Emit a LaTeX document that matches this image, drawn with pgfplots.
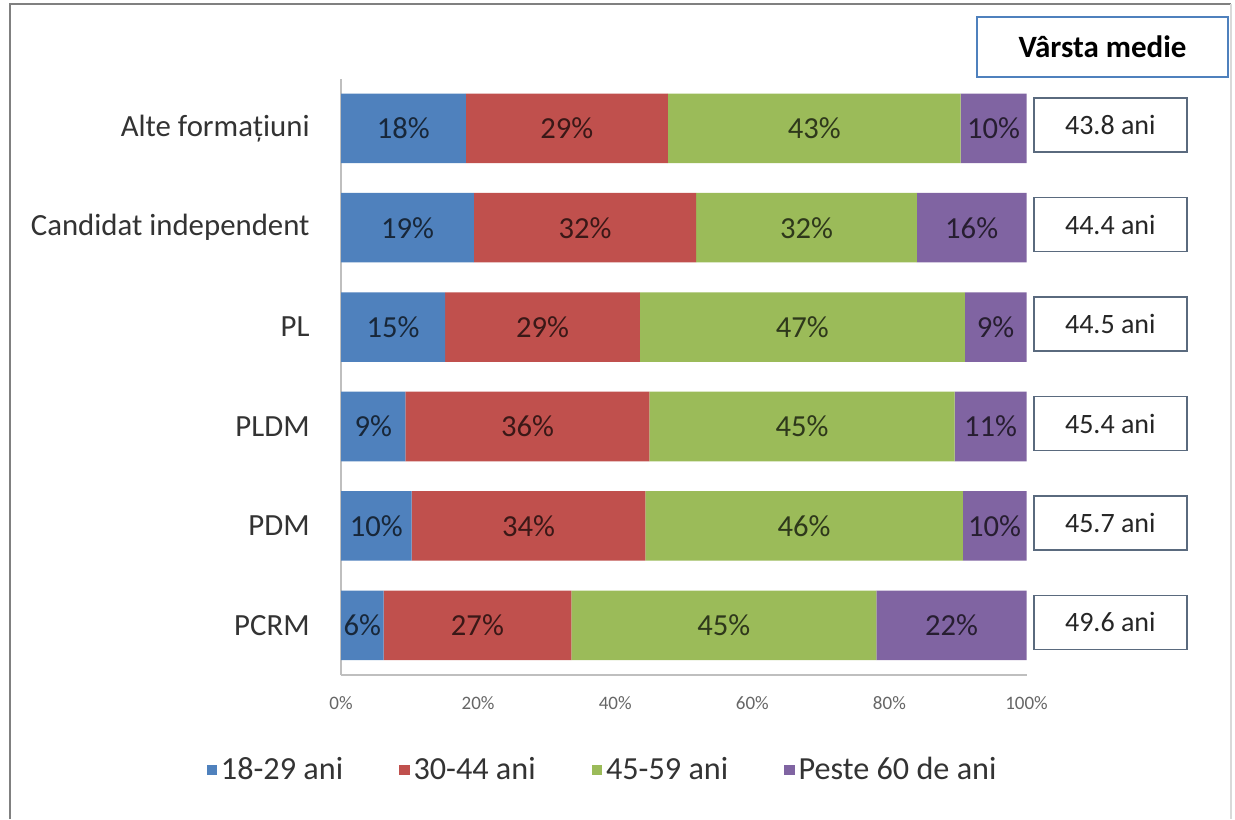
\documentclass[border=0pt]{standalone}
\usepackage{pgfplots}
\pgfplotsset{compat=1.18}
\usepackage{pgfplotstable}
\usepackage{fontspec}
\setmainfont{Carlito}
\definecolor{c1}{HTML}{4F81BD}
\definecolor{c2}{HTML}{C0504D}
\definecolor{c3}{HTML}{9BBB59}
\definecolor{c4}{HTML}{8064A2}
\definecolor{boxc}{HTML}{5A6A7E}
\pgfplotstableread{
i b r g p lb lr lg lp e age
0 6.2 27.4 44.5 21.9 6 27 45 22 100 49.6
1 10.3 34.1 46.3 9.3 10 34 46 10 100 45.7
2 9.4 35.6 44.5 10.5 9 36 45 11 100 45.4
3 15.2 28.4 47.4 9.0 15 29 47 9 100 44.5
4 19.4 32.4 32.2 16.0 19 32 32 16 100 44.4
5 18.2 29.5 42.7 9.6 18 29 43 10 100 43.8
}\data
\pgfplotsset{
  pos/.style={at={(170.5pt,72pt)}, anchor=south west,
    scale only axis, width=342.75pt, height=298.2pt,
    xmin=0, xmax=100, ymin=-0.5, ymax=5.5, clip=false},
  lab/.style={only marks, mark=none, point meta=explicit symbolic,
    nodes near coords={\pgfplotspointmeta\%},
    every node near coord/.append style={anchor=center, inner sep=0pt,
      font=\fontsize{15.3}{18}\selectfont, text=#1}},
}
\begin{document}
\begin{tikzpicture}
\useasboundingbox (0,0) rectangle (617.5pt,409.5pt);
\fill[white] (0,0) rectangle (617.5pt,409.5pt);
\draw[black!50, line width=1.2pt] (5pt,0) -- (5pt,407.5pt) -- (615.5pt,407.5pt);
\draw[black!15, line width=1pt] (615.5pt,407.5pt) -- (615.5pt,0);
\begin{axis}[
  pos,
  xbar stacked, bar width=0.70,
  ytick={0,...,5},
  yticklabels={PCRM,PDM,PLDM,PL,Candidat independent,Alte formațiuni},
  xtick={0,20,...,100},
  xticklabels={0\%,20\%,40\%,60\%,80\%,100\%},
  axis x line*=bottom, axis y line*=left,
  axis line style={draw=black!25, line width=0.8pt, -},
  major tick length=0pt,
  yticklabel style={font=\fontsize{15.4}{18}\selectfont, text=black!80, inner sep=0pt, xshift=-15.5pt},
  xticklabel style={font=\fontsize{9.5}{11}\selectfont, text=black!60, inner sep=0pt, yshift=-10.5pt},
  legend style={at={(0.383,-0.159)}, anchor=center, legend columns=4, draw=none, fill=none,
    font=\fontsize{16.1}{18}\selectfont, text=black!80,
    /tikz/every even column/.append style={column sep=26pt},
    /tikz/every odd column/.append style={column sep=0pt}},
  legend image code/.code={\fill[#1] (-1pt,-2.6pt) rectangle (4.2pt,2.6pt);},
]
\addplot[fill=c1, draw=none] table[x=b,y=i]{\data};
\addplot[fill=c2, draw=none] table[x=r,y=i]{\data};
\addplot[fill=c3, draw=none] table[x=g,y=i]{\data};
\addplot[fill=c4, draw=none] table[x=p,y=i]{\data};
\legend{18-29 ani,30-44 ani,45-59 ani,Peste 60 de ani}
\end{axis}
\begin{axis}[pos, hide axis]
\addplot[lab=c1!30!black] table[x expr=\thisrow{b}/2, y=i, meta=lb]{\data};
\addplot[lab=c2!30!black] table[x expr=\thisrow{b}+\thisrow{r}/2, y=i, meta=lr]{\data};
\addplot[lab=c3!30!black] table[x expr=\thisrow{b}+\thisrow{r}+\thisrow{g}/2, y=i, meta=lg]{\data};
\addplot[lab=c4!30!black] table[x expr=\thisrow{b}+\thisrow{r}+\thisrow{g}+\thisrow{p}/2, y=i, meta=lp]{\data};
\addplot[only marks, mark=none, point meta=explicit symbolic,
  nodes near coords={\pgfplotspointmeta{} ani},
  every node near coord/.append style={anchor=west, xshift=3.25pt, yshift=1.5pt, draw=boxc, fill=white,
    line width=0.8pt, minimum width=76.5pt, minimum height=27pt, inner sep=0pt,
    font=\fontsize{14}{16}\selectfont, text=black!85}] table[x=e,y=i,meta=age]{\data};
\end{axis}
\node[draw=c1, line width=0.6pt, minimum width=125.5pt, minimum height=30pt, inner sep=0pt,
  font=\bfseries\fontsize{15.5}{18}\selectfont] at (551.25pt,386pt) {Vârsta medie};
\end{tikzpicture}
\end{document}
